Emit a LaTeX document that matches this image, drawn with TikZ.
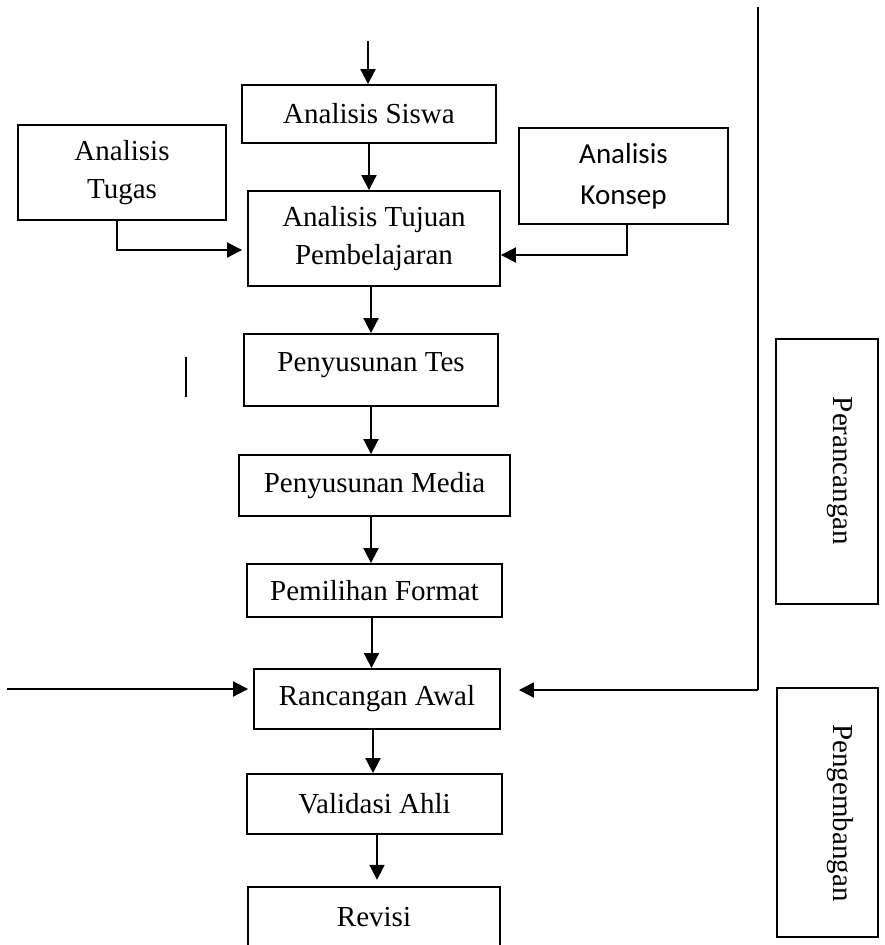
\documentclass[tikz,border=0pt]{standalone}
\usepackage{fontspec}
\setmainfont{Liberation Serif}
\newfontfamily\konsepfont{Carlito}
\usetikzlibrary{arrows.meta,calc}
\begin{document}
\begin{tikzpicture}[x=1pt,y=-1pt,
  box/.style={draw,line width=1.9pt,inner sep=0pt,align=center,font=\fontsize{29}{38}\selectfont},
  thinbox/.style={box,line width=1.4pt},
  arr/.style={line width=2pt,-{Triangle[length=15pt,width=15pt]}},
  txt/.style={inner sep=0pt,font=\fontsize{29}{38}\selectfont},
  rule/.style={line width=1.3pt}]
\useasboundingbox (0,0) rectangle (885,945);
% boxes
\node[box,minimum width=254pt,minimum height=58pt] (siswa) at (369,114) {Analisis Siswa};
\node[box,minimum width=208pt,minimum height=95pt] (tugas) at (122,172.5) {Analisis\\Tugas};
\node[box,minimum width=252pt,minimum height=95pt] (tujuan) at (374,238.5) {Analisis Tujuan\\Pembelajaran};
\node[thinbox,minimum width=209pt,minimum height=96pt,font=\konsepfont\fontsize{29}{41}\selectfont] (konsep) at (623.5,176) {Analisis\\Konsep};
\node[box,minimum width=254pt,minimum height=72pt] (tes) at (371,370) {\raisebox{5pt}[\height][\depth]{Penyusunan Tes}};
\node[box,minimum width=271pt,minimum height=61pt] (media) at (374.5,485.5) {Penyusunan Media};
\node[box,minimum width=255pt,minimum height=53pt] (format) at (374.5,590.5) {Pemilihan Format};
\node[box,minimum width=246pt,minimum height=60pt] (rancangan) at (377,699) {Rancangan Awal};
\node[box,minimum width=255pt,minimum height=60pt] (validasi) at (374.5,804) {Validasi Ahli};
\node[txt,minimum width=252pt,minimum height=60pt] (revisi) at (374,917) {Revisi};
\draw[line width=1.9pt] (revisi.south west) -- (revisi.north west) -- (revisi.north east) -- (revisi.south east);
% side boxes
\node[box,minimum width=102pt,minimum height=265pt] (peranc) at (827,471.5) {};
\node[txt,rotate=-90] (perancT) at (840,471) {Perancangan};
\node[box,minimum width=101pt,minimum height=249pt] (pengem) at (827.5,812.5) {};
\node[txt,rotate=-90] (pengemT) at (840,813) {Pengembangan};
% connectors
\coordinate (topin) at (368,41);
\draw[arr] (topin) -- (topin |- siswa.north);
\draw[arr] (siswa.south) -- (siswa.south |- tujuan.north);
\draw[arr,shorten >=5pt] ([xshift=-5pt]tugas.south) |- ([yshift=-11.5pt]tujuan.west);
\draw[arr] ([xshift=3.5pt]konsep.south) |- ([yshift=-16.5pt]tujuan.east);
\draw[arr] (tujuan.south -| tes.north) -- (tes.north);
\draw[arr] (tes.south) -- (tes.south |- media.north);
\draw[arr] (tes.south |- media.south) -- (tes.south |- format.north);
\draw[arr] ([xshift=-3pt]format.south) -- ([xshift=-3pt]format.south |- rancangan.north);
\draw[arr] ([xshift=-4pt]rancangan.south) -- ([xshift=-4pt]rancangan.south |- validasi.north);
\draw[arr,shorten >=7pt] ([xshift=2.5pt]validasi.south) -- ([xshift=2.5pt]validasi.south |- revisi.north);
\coordinate (lin) at (7,689);
\draw[arr,shorten >=5pt] (lin) -- (lin -| rancangan.west);
\coordinate (vtop) at (758,7);
\coordinate (vbend) at (758,690);
\draw[rule] (vtop) -- (vbend);
\draw[arr,shorten >=18pt] (vbend) -- (vbend -| rancangan.east);
\coordinate (s1) at (186,357);
\coordinate (s2) at (186,397);
\draw[rule] (s1) -- (s2);
\end{tikzpicture}
\end{document}
